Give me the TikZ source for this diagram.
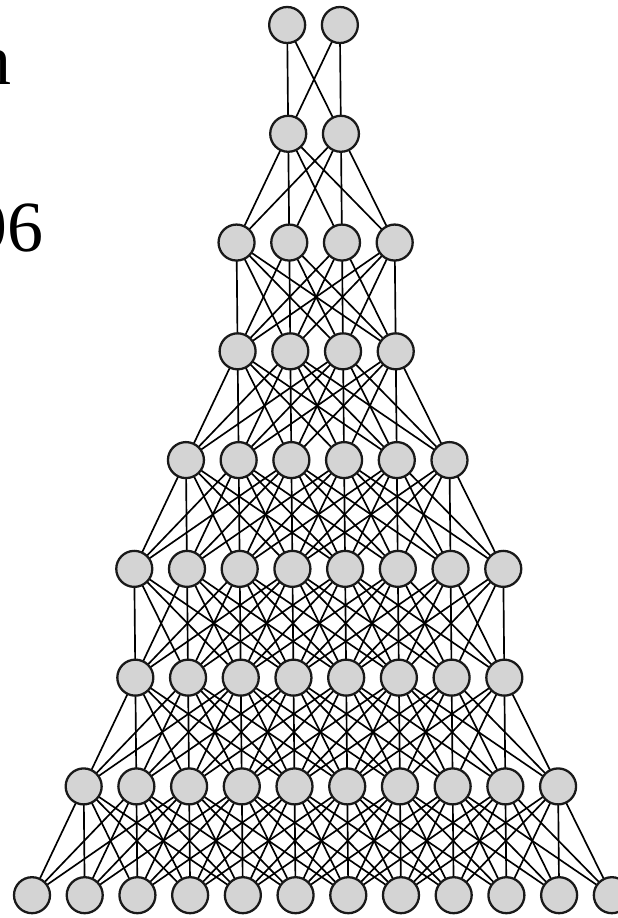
\documentclass[tikz,border=0pt]{standalone}
\usepackage{fontspec}
\setmainfont{Liberation Serif}
\usepackage{tikz-network}
\definecolor{nodegray}{RGB}{212,212,212}
\SetVertexStyle[LineWidth=1.3pt,LineColor=black!90]

\begin{document}
\begin{tikzpicture}
			\useasboundingbox (0,0) rectangle (12.34,-18.36);
			% cut-off text at the left edge
			\node[anchor=base east,inner sep=0pt,font=\fontsize{41}{41}\selectfont] (wordn) at (0.23,-1.70) {n};
			\node[anchor=base east,inner sep=0pt,font=\fontsize{41}{41}\selectfont] (word96) at (0.88,-5.02) {96};
			% Vertices: layer/first column/last column
			\foreach \k/\cmin/\cmax in {0/5/6,1/5/6,2/4/7,3/4/7,4/3/8,5/2/9,6/2/9,7/1/10,8/0/11}{
				\foreach \c in {\cmin,...,\cmax}{
					\pgfmathsetmacro\vx{0.02*(32+52.7*\c-1.05*(8-\k))}
					\pgfmathsetmacro\vy{-0.02*(25+108.75*\k)}
					\Vertex[x=\vx,y=\vy,size=.72,color=nodegray,opacity=1]{v\k-\c}
				}
			}
			% Edges: columns at most 3 apart
			\foreach \k/\cmin/\cmax/\dmin/\dmax in {0/5/6/5/6,1/5/6/4/7,2/4/7/4/7,3/4/7/3/8,4/3/8/2/9,5/2/9/2/9,6/2/9/1/10,7/1/10/0/11}{
				\pgfmathtruncatemacro\kk{\k+1}
				\foreach \c in {\cmin,...,\cmax}{
					\foreach \d in {\dmin,...,\dmax}{
						\pgfmathtruncatemacro\gap{abs(\c-\d)}
						\ifnum\gap<4 \Edge[lw=0.95,color=black](v\k-\c)(v\kk-\d)\fi
					}
				}
			}
		\end{tikzpicture}
\end{document}
